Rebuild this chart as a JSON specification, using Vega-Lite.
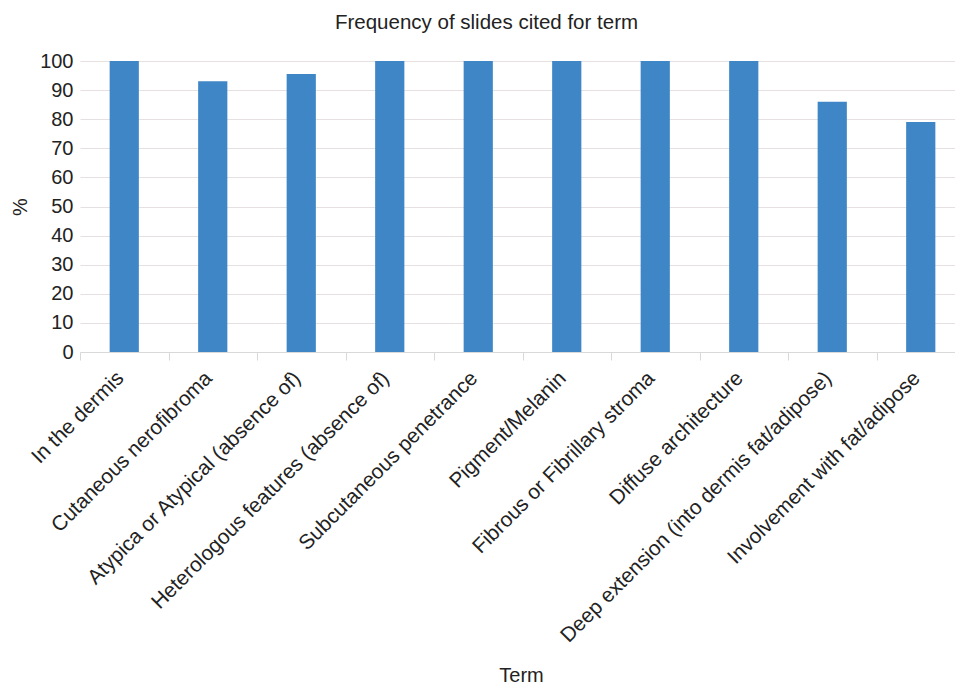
{
  "$schema": "https://vega.github.io/schema/vega-lite/v6.json",
  "autosize": "none",
  "width": 875,
  "height": 291,
  "padding": {"left": 80, "top": 61, "right": 0, "bottom": 333},
  "background": "white",
  "config": {
    "font": "Liberation Sans",
    "view": {"stroke": null}
  },
  "title": {
    "text": "Frequency of slides cited for term",
    "fontSize": 20.5,
    "fontWeight": "normal",
    "color": "#222222",
    "anchor": "middle",
    "dx": -31,
    "offset": 18
  },
  "data": {
    "values": [
      {"term": "In the dermis", "pct": 100},
      {"term": "Cutaneous nerofibroma", "pct": 93},
      {"term": "Atypica or Atypical (absence of)", "pct": 95.5},
      {"term": "Heterologous features (absence of)", "pct": 100},
      {"term": "Subcutaneous penetrance", "pct": 100},
      {"term": "Pigment/Melanin", "pct": 100},
      {"term": "Fibrous or Fibrillary stroma", "pct": 100},
      {"term": "Diffuse architecture", "pct": 100},
      {"term": "Deep extension (into dermis fat/adipose)", "pct": 86},
      {"term": "Involvement with fat/adipose", "pct": 79}
    ]
  },
  "mark": {"type": "bar", "color": "#3f86c7", "width": {"band": 0.33}},
  "encoding": {
    "x": {
      "field": "term",
      "type": "nominal",
      "sort": null,
      "scale": {"paddingInner": 0, "paddingOuter": 0, "range": [0, 885]},
      "axis": {
        "title": "Term",
        "titleFontSize": 20,
        "titleFontWeight": "normal",
        "titleColor": "#222222",
        "titleBaseline": "alphabetic",
        "titleY": 329,
        "titleX": 441,
        "labelAngle": -45,
        "labelAlign": "right",
        "labelBaseline": "alphabetic",
        "labelFontSize": 20.8,
        "labelColor": "#222222",
        "labelPadding": 19,
        "labelLimit": 0,
        "labelOverlap": false,
        "tickBand": "extent",
        "tickColor": "#d9d9d9",
        "tickSize": 8,
        "domainColor": "#d9d9d9",
        "grid": false
      }
    },
    "y": {
      "field": "pct",
      "type": "quantitative",
      "scale": {"domain": [0, 100], "nice": false},
      "axis": {
        "title": "%",
        "titleFontSize": 20,
        "titleFontWeight": "normal",
        "titleColor": "#222222",
        "titlePadding": 9,
        "values": [0, 10, 20, 30, 40, 50, 60, 70, 80, 90, 100],
        "labelFontSize": 20,
        "labelColor": "#222222",
        "labelPadding": 7,
        "labelOverlap": false,
        "ticks": false,
        "domain": false,
        "gridColor": "#e6e0e0",
        "gridWidth": 1.2
      }
    }
  }
}
